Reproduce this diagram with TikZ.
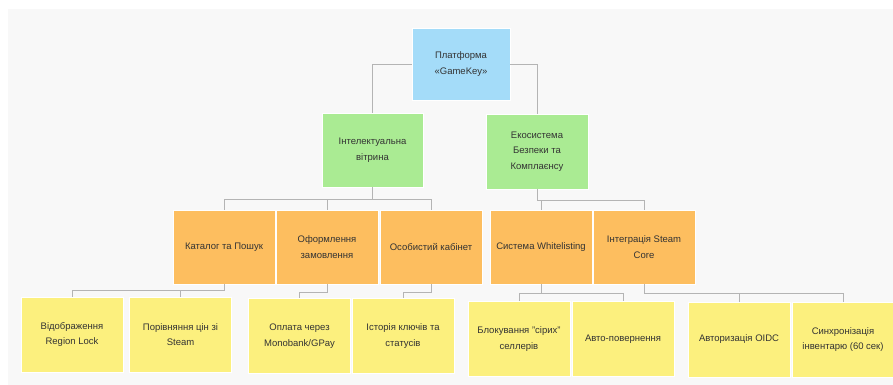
\documentclass[tikz,border=0pt]{standalone}
\usepackage{fontspec}
\setmainfont{Liberation Sans}
\definecolor{bgc}{HTML}{F8F8F8}
\definecolor{bluec}{HTML}{A4DCF9}
\definecolor{greenc}{HTML}{AAEB93}
\definecolor{orangec}{HTML}{FDBE5F}
\definecolor{yellowc}{HTML}{FCF07E}
\definecolor{linec}{HTML}{B4B4B4}
\definecolor{txtc}{HTML}{333333}
\begin{document}
\begin{tikzpicture}[x=1pt,y=-1pt,
  box/.style={minimum width=#1, inner sep=0pt, align=center, text=txtc,
    font=\fontsize{9.5}{15.6}\selectfont},
  rootbox/.style={box=98pt, minimum height=72pt, fill=bluec, draw=white, line width=0.6pt},
  greenbox/.style={box=101pt, minimum height=74pt, fill=greenc, draw=white, line width=0.6pt},
  orangebox/.style={box=102pt, minimum height=74pt, fill=orangec, draw=white, line width=0.6pt},
  yellowbox/.style={box=102pt, minimum height=75pt, fill=yellowc, draw=white, line width=0.6pt},
  conn/.style={draw=linec, line width=0.9pt}]
\useasboundingbox (0,0) rectangle (893,385);
\fill[bgc] (8,9) rectangle (893,385);

\node[rootbox] (root) at (461,64) {Платформа\\«GameKey»};
\node[greenbox] (g1) at (372.5,150) {Інтелектуальна\\вітрина};
\node[greenbox, minimum width=102pt, minimum height=75pt] (g2) at (537,151.5) {Екосистема\\Безпеки та\\Комплаєнсу};

\node[orangebox] (o1) at (224,247) {Каталог та Пошук};
\node[orangebox] (o2) at (327,247) {Оформлення\\замовлення};
\node[orangebox] (o3) at (431,247) {Особистий кабінет};
\node[orangebox] (o4) at (541,247) {Система Whitelisting};
\node[orangebox] (o5) at (644,247) {Інтеграція Steam\\Core};

\node[yellowbox] (y1) at (72,334.5) {Відображення\\Region Lock};
\node[yellowbox] (y2) at (180.5,334.5) {Порівняння цін зі\\Steam};
\node[yellowbox] (y3) at (299.5,336) {Оплата через\\Monobank/GPay};
\node[yellowbox] (y4) at (403,336) {Історія ключів та\\статусів};
\node[yellowbox] (y5) at (519,339) {Блокування "сірих"\\селлерів};
\node[yellowbox] (y6) at (623,339) {Авто-повернення};
\node[yellowbox] (y7) at (739,339.5) {Авторизація OIDC};
\node[yellowbox] (y8) at (843,339.5) {Синхронізація\\інвентарю (60 сек)};

\begin{scope}[on background layer/.style={}]
\draw[conn] (root.west) -| (g1.north);
\draw[conn] (root.east) -| (g2.north);

\draw[conn] (g1.south) -- ++(0,12) -| (o1.north);
\draw[conn] (g1.south) -- ++(0,12) -| (o2.north);
\draw[conn] (g1.south) -- ++(0,12) -| (o3.north);
\draw[conn] (g2.south) -- ++(0,11) -| (o4.north);
\draw[conn] (g2.south) -- ++(0,11) -| (o5.north);

\draw[conn] (o1.south) -- ++(0,6) -| (y1.north);
\draw[conn] (o1.south) -- ++(0,6) -| (y2.north);
\draw[conn] (o2.south) -- ++(0,8) -| (y3.north);
\draw[conn] (o3.south) -- ++(0,8) -| (y4.north);
\draw[conn] (o4.south) -- ++(0,9) -| (y5.north);
\draw[conn] (o4.south) -- ++(0,9) -| (y6.north);
\draw[conn] (o5.south) -- ++(0,9) -| (y7.north);
\draw[conn] (o5.south) -- ++(0,9) -| (y8.north);
\end{scope}
\end{tikzpicture}
\end{document}
